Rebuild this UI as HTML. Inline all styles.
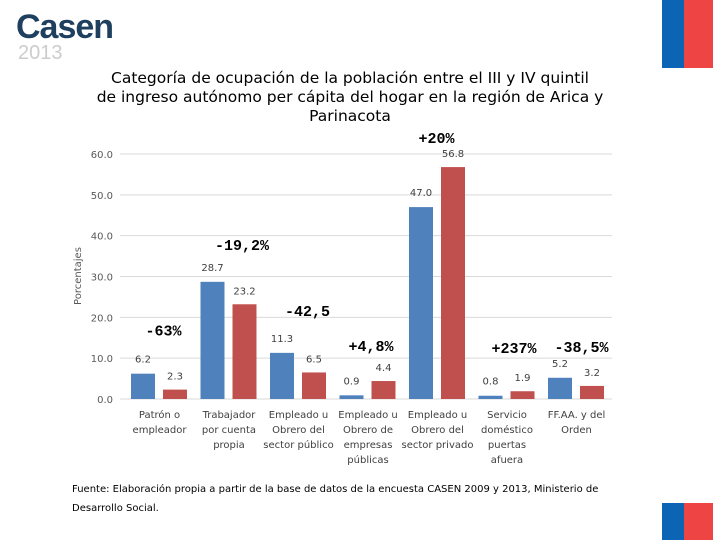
<!DOCTYPE html>
<html><head><meta charset="utf-8"><style>
body{margin:0;width:720px;height:540px;background:#fff;overflow:hidden;font-family:"Liberation Sans",sans-serif;position:relative}
.t{position:absolute}
</style></head><body>
<div class="t" style="left:16px;top:8px;font:bold 34px 'Liberation Sans',sans-serif;color:#1f3f5f;letter-spacing:-1px">Casen</div>
<div class="t" style="left:18px;top:42px;font:20px 'Liberation Sans',sans-serif;color:#ccc">2013</div>
<div class="t" style="left:662px;top:0;width:22px;height:68px;background:#0b64b4"></div>
<div class="t" style="left:684px;top:0;width:29px;height:68px;background:#ef4444"></div>
<div class="t" style="left:662px;top:503px;width:22px;height:37px;background:#0b64b4"></div>
<div class="t" style="left:684px;top:503px;width:29px;height:37px;background:#ef4444"></div>
<div class="t" style="left:30px;top:69px;width:640px;text-align:center;font:15.5px 'DejaVu Sans',sans-serif;line-height:19px;color:#000">Categoría de ocupación de la población entre el III y IV quintil<br>de ingreso autónomo per cápita del hogar en la región de Arica y<br>Parinacota</div>
<svg id="c" width="720" height="540" style="position:absolute;left:0;top:0"></svg>
<div class="t" style="left:72px;top:480px;width:580px;font:10px 'DejaVu Sans',sans-serif;line-height:19px;color:#000">Fuente: Elaboración propia a partir de la base de datos de la encuesta CASEN 2009 y 2013, Ministerio de Desarrollo Social.</div>
<script>
const categories=[["Patrón o","empleador"],["Trabajador","por cuenta","propia"],["Empleado u","Obrero del","sector público"],["Empleado u","Obrero de","empresas","públicas"],["Empleado u","Obrero del","sector privado"],["Servicio","doméstico","puertas","afuera"],["FF.AA. y del","Orden"]];
const values2009=[6.2,28.7,11.3,0.9,47.0,0.8,5.2];
const values2013=[2.3,23.2,6.5,4.4,56.8,1.9,3.2];
const changes=["-63%","-19,2%","-42,5","+4,8%","+20%","+237%","-38,5%"];
const yTicks=[0,10,20,30,40,50,60];
// layout offsets for annotations (pixels, not data)
const annDx=[4,13,9,3,-1,7,5];
const annDy=[38,32,37,30,24,38,26];
const NS="http://www.w3.org/2000/svg",svg=document.getElementById('c');
const y=v=>399-v*4.083, cx=i=>159.5+i*69.5;
function mk(t,a,txt){const e=document.createElementNS(NS,t);for(const k in a)e.setAttribute(k,a[k]);if(txt!=null)e.textContent=txt;svg.appendChild(e);return e;}
yTicks.forEach(v=>{
 const g=mk('line',{x1:120,x2:612,y1:y(v),y2:y(v),stroke:'#d9d9d9'});
 
 
 const t=mk('text',{x:113,y:y(v)+4,'text-anchor':'end','font-size':10,fill:'#595959','font-family':'DejaVu Sans'},v.toFixed(1));
 
 
});
const yt=mk('text',{transform:'translate(81,276) rotate(-90)','text-anchor':'middle','font-size':10,fill:'#595959','font-family':'DejaVu Sans'},'Porcentajes');


categories.forEach((c,i)=>{
 [[values2009[i],'#4f81bd',-28.5],[values2013[i],'#c0504d',3.5]].forEach(([v,col,dx],k)=>{
  const b=mk('rect',{x:cx(i)+dx,y:y(v),width:24,height:399-y(v),fill:col});
  
  
  const l=mk('text',{x:cx(i)+dx+12,y:y(v)-(k?10:11),'text-anchor':'middle','font-size':10,fill:'#404040','font-family':'DejaVu Sans'},v.toFixed(1));
  
  
 });
 c.forEach((s,j)=>{const t=mk('text',{x:cx(i),y:418+j*15,'text-anchor':'middle','font-size':10,fill:'#404040','font-family':'DejaVu Sans'},s);
  
  });
 const hi=Math.max(values2009[i],values2013[i]);
 const ch=mk('text',{x:cx(i)+annDx[i],y:y(hi)-annDy[i],'text-anchor':'middle','font-size':15,'font-weight':'bold',fill:'#000','font-family':'Liberation Mono'},changes[i]);
 
 
});
</script>
</body></html>
